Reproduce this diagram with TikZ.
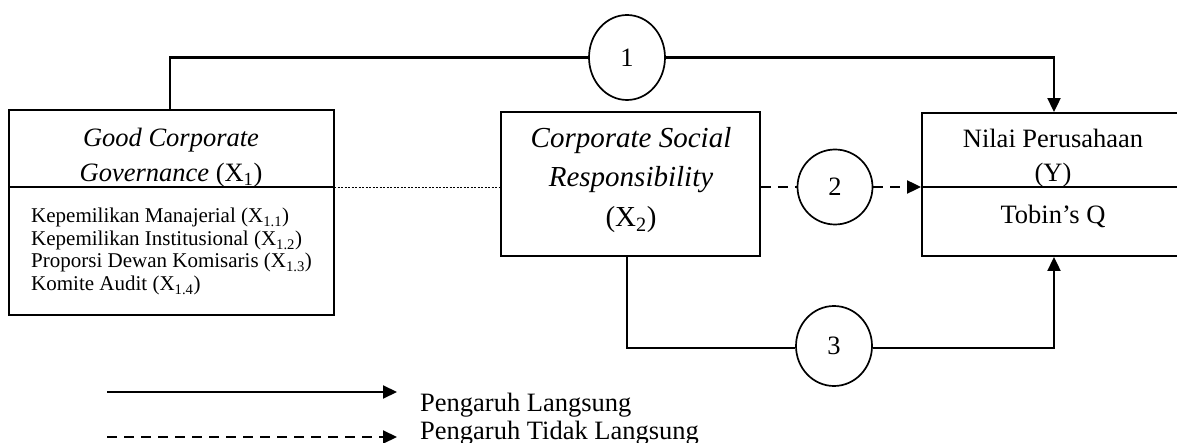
\documentclass[tikz,border=0pt]{standalone}
\usepackage{fontspec}
\setmainfont{Liberation Serif}
\usetikzlibrary{arrows.meta,shapes.geometric}
\begin{document}
\begin{tikzpicture}[x=1pt,y=-1pt,
  box/.style={draw,line width=1.9pt,rectangle,inner sep=0pt},
  circ/.style={draw,line width=1.7pt,ellipse,inner sep=0pt,font=\fontsize{26.5}{30}\selectfont},
  ln/.style={line width=2.1pt},
  dsh/.style={line width=2.1pt,dash pattern=on 10pt off 7pt},
  arr/.style={-{Triangle[length=14pt,width=13pt]}},
  big/.style={inner sep=0pt,anchor=base,font=\fontsize{26.5}{30}\selectfont},
  csr/.style={inner sep=0pt,anchor=base,font=\fontsize{29}{33}\selectfont},
  small/.style={inner sep=0pt,anchor=base west,font=\fontsize{21}{24}\selectfont},
  leg/.style={inner sep=0pt,anchor=base west,font=\fontsize{26.5}{30}\selectfont}]
\useasboundingbox (0,0) rectangle (1177,443);
\fill[white] (0,0) rectangle (1177,443);
% boxes
\node[box,minimum width=325pt,minimum height=205pt] (gcg) at (171.5,212.5) {};
\node[box,minimum width=259pt,minimum height=144pt] (csrb) at (630.5,184) {};
\node[box,minimum width=264pt,minimum height=143pt] (nil) at (1054,184.5) {};
\coordinate (gcgdl) at (9,187); \coordinate (gcgdr) at (334,187);
\coordinate (nildl) at (922,187); \coordinate (nildr) at (1186,187);
\draw[line width=1.9pt] (gcgdl) -- (gcgdr);
\draw[line width=1.9pt] (nildl) -- (nildr);
% texts
\node[big] (t1) at (171,147) {\itshape Good Corporate};
\node[big] (t2) at (171,182) {\itshape Governance\upshape\ (X\textsubscript{1})};
\node[small] (l1) at (31,223) {Kepemilikan Manajerial (X\textsubscript{1.1})};
\node[small] (l2) at (31,246) {Kepemilikan Institusional (X\textsubscript{1.2})};
\node[small] (l3) at (31,268) {Proporsi Dewan Komisaris (X\textsubscript{1.3})};
\node[small] (l4) at (31,291) {Komite Audit (X\textsubscript{1.4})};
\node[csr] (c1) at (631,148) {\itshape Corporate Social};
\node[csr] (c2) at (631,187) {\itshape Responsibility};
\node[csr] (c3) at (631,227) {(X\textsubscript{2})};
\node[big] (y1) at (1053,148) {Nilai Perusahaan};
\node[big] (y2) at (1053,182) {(Y)};
\node[big] (y3) at (1053,224) {Tobin’s Q};
% circles
\node[circ,minimum width=76pt,minimum height=85pt] (k1) at (627,57.5) {1};
\node[circ,minimum width=75pt,minimum height=75pt] (k2) at (835,187) {2};
\node[circ,minimum width=76pt,minimum height=80pt] (k3) at (834,346) {3};
% dotted link
\draw[line width=0.8pt,dash pattern=on 2pt off 1.5pt] (gcgdr) -- (csrb.west |- gcgdr);
% path 1
\coordinate (p1a) at (170,57.5);
\coordinate (p1b) at (1054,57.5);
\draw[ln] (gcg.north -| p1a) -- (p1a) -- (k1.west);
\draw[ln,arr] (k1.east) -- (p1b) -- (nil.north -| p1b);
% path 2
\draw[dsh] (csrb.east |- k2) -- (k2.west);
\draw[dsh,arr] (k2.east) -- (nil.west |- k2);
% path 3
\coordinate (p3a) at (627,348);
\coordinate (p3b) at (1054,348);
\draw[ln] (csrb.south -| p3a) -- (p3a) -- (k3.west |- p3a);
\draw[ln,arr] (k3.east |- p3b) -- (p3b) -- (nil.south -| p3b);
% legend
\coordinate (la1) at (107,392); \coordinate (la2) at (397,392);
\coordinate (lb1) at (107,437); \coordinate (lb2) at (397,437);
\draw[ln,arr] (la1) -- (la2);
\draw[dsh,arr] (lb1) -- (lb2);
\node[leg] (g1) at (420,411) {Pengaruh Langsung};
\node[leg] (g2) at (420,439) {Pengaruh Tidak Langsung};
\end{tikzpicture}
\end{document}
